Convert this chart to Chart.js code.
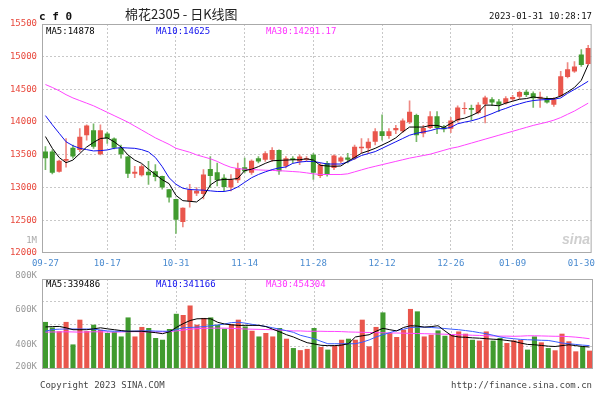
<!DOCTYPE html>
<html lang="zh-CN">
<head>
<meta charset="utf-8">
<title>棉花2305 - 日K线图</title>
<script src="https://cdn.jsdelivr.net/npm/chart.js@4.4.1/dist/chart.umd.min.js"></script>
<style>
  html, body { margin: 0; padding: 0; background: #fff; }
  #lienzo { position: relative; width: 600px; height: 400px; overflow: hidden;
            font-family: "DejaVu Sans Mono", monospace; font-size: 9px; color: #111; }
  #lienzo canvas { position: absolute; left: 0; }
  .txt { position: absolute; line-height: 9px; white-space: nowrap; }
</style>
</head>
<body>
<div id="lienzo">
  <canvas id="chartVelas" width="600" height="275" style="top:0"></canvas>
  <canvas id="chartVolumen" width="600" height="134" style="top:266px"></canvas>

  <div class="txt" style="left:39px;top:11px;font-weight:bold;font-size:11px;line-height:11px;">c f 0</div>
  <div class="txt" style="left:125px;top:7px;font-family:'Noto Sans CJK SC',sans-serif;font-size:13px;line-height:14px;color:#222;">棉花2305 - 日K线图</div>
  <div class="txt" style="right:8px;top:11.5px;">2023-01-31 10:28:17</div>

  <div class="txt" style="left:46px;top:27px;color:#000;">MA5:14878</div>
  <div class="txt" style="left:156px;top:27px;color:#1010ee;">MA10:14625</div>
  <div class="txt" style="left:266px;top:27px;color:#ff33ff;">MA30:14291.17</div>
  <div class="txt" style="right:563px;top:235.5px;color:#aaa;">1M</div>
  <div class="txt" style="left:562px;top:232px;font-family:'Liberation Sans',sans-serif;font-style:italic;font-weight:bold;font-size:14px;line-height:14px;color:#cfcfcf;">sina</div>

  <div class="txt" style="left:46px;top:279.5px;color:#000;">MA5:339486</div>
  <div class="txt" style="left:156px;top:279.5px;color:#1010ee;">MA10:341166</div>
  <div class="txt" style="left:266px;top:279.5px;color:#ff33ff;">MA30:454304</div>

  <div class="txt" style="left:40px;top:380.5px;color:#444;">Copyright 2023 SINA.COM</div>
  <div class="txt" style="right:8px;top:380.5px;color:#444;">http://finance.sina.com.cn</div>
</div>

<script>
// Fechas de negociación (categorías del eje X)
const fechas = [
  '09-27','09-28','09-29','09-30','10-10','10-11','10-12','10-13','10-14','10-17',
  '10-18','10-19','10-20','10-21','10-24','10-25','10-26','10-27','10-28','10-31',
  '11-01','11-02','11-03','11-04','11-07','11-08','11-09','11-10','11-11','11-14',
  '11-15','11-16','11-17','11-18','11-21','11-22','11-23','11-24','11-25','11-28',
  '11-29','11-30','12-01','12-02','12-05','12-06','12-07','12-08','12-09','12-12',
  '12-13','12-14','12-15','12-16','12-19','12-20','12-21','12-22','12-23','12-26',
  '12-27','12-28','12-29','12-30','01-03','01-04','01-05','01-06','01-09','01-10',
  '01-11','01-12','01-13','01-16','01-17','01-18','01-19','01-20','01-30','01-31'
];
// Posiciones de las fechas que se muestran
const fechasVisibles = [0, 9, 19, 29, 39, 49, 59, 68, 78];

// Velas: apertura, máximo, mínimo, cierre
const apertura = [
  13550,13550,13240,13410,13610,13575,13800,13875,13510,13825,
  13750,13610,13475,13210,13190,13240,13250,13175,12975,12825,
  12475,12790,12910,12900,13285,13235,13150,13000,13110,13310,
  13225,13450,13425,13425,13575,13325,13450,13400,13425,13500,
  13175,13375,13300,13400,13460,13450,13600,13600,13700,13860,
  13790,13875,13860,14000,14110,13825,13910,14090,13925,13900,
  14025,14200,14215,14140,14275,14350,14315,14290,14350,14390,
  14465,14440,14360,14350,14265,14400,14690,14775,15035,14890
];
const maximo = [
  13625,13575,13420,13750,13650,13900,13960,13975,13960,13850,
  13760,13650,13475,13325,13350,13400,13350,13175,12975,12825,
  12690,13050,13000,13275,13475,13375,13200,13200,13375,13450,
  13425,13475,13550,13610,13575,13475,13475,13500,13475,13525,
  13375,13400,13500,13475,13525,13650,13750,13750,13900,14110,
  13900,13950,14050,14325,14125,13950,14160,14160,13950,14075,
  14250,14300,14260,14300,14400,14375,14350,14390,14410,14475,
  14490,14465,14460,14390,14375,14775,14910,14925,15110,15175
];
const minimo = [
  13275,13210,13235,13310,13450,13550,13725,13600,13500,13675,
  13590,13450,13150,13150,13175,13050,13100,12975,12775,12300,
  12400,12700,12875,12825,13000,13025,12950,12950,13075,13225,
  13200,13375,13400,13400,13200,13300,13375,13350,13400,13125,
  13150,13175,13275,13375,13375,13425,13525,13525,13650,13725,
  13750,13825,13840,13975,13700,13775,13900,13825,13850,13840,
  14000,14125,14025,14125,13990,14250,14160,14275,14325,14350,
  14390,14225,14225,14290,14240,14390,14675,14760,14850,14875
];
const cierre = [
  13450,13225,13410,13435,13475,13775,13950,13625,13875,13750,
  13610,13510,13210,13240,13325,13190,13160,13000,12850,12510,
  12690,12975,12950,13200,13175,13110,13010,13125,13300,13250,
  13410,13400,13525,13575,13250,13450,13420,13475,13450,13225,
  13350,13200,13490,13460,13425,13625,13625,13700,13860,13790,
  13860,13910,14025,14160,13800,13910,14090,13910,13890,14025,
  14225,14215,14190,14265,14375,14300,14265,14365,14385,14460,
  14415,14365,14390,14300,14350,14700,14810,14850,14875,15135
];

// Medias móviles del precio
const ma5 = [
  13780,13600,13460,13380,13420,13520,13620,13690,13750,13760,
  13700,13620,13500,13420,13370,13280,13200,13120,13060,12880,
  12800,12790,12780,12860,13040,13110,13125,13125,13140,13260,
  13280,13320,13370,13410,13415,13420,13425,13425,13440,13420,
  13340,13330,13325,13330,13400,13460,13525,13560,13600,13650,
  13700,13760,13850,13925,13925,13925,13950,13950,13920,13980,
  14040,14060,14100,14150,14260,14260,14250,14290,14320,14350,
  14360,14385,14370,14360,14360,14400,14460,14530,14640,14878
];
const ma10 = [
  14100,13960,13830,13700,13640,13600,13580,13560,13565,13575,
  13600,13610,13605,13600,13580,13545,13460,13320,13150,13050,
  12990,12970,12965,12960,12950,12940,12940,12960,13010,13080,
  13150,13200,13240,13275,13300,13315,13370,13390,13400,13400,
  13380,13360,13360,13360,13390,13440,13490,13520,13550,13600,
  13650,13700,13750,13800,13830,13850,13870,13900,13900,13920,
  13975,14000,14020,14050,14090,14130,14175,14210,14250,14280,
  14310,14330,14340,14345,14350,14370,14440,14500,14560,14625
];
const ma30 = [
  14575,14530,14480,14420,14370,14330,14290,14250,14200,14150,
  14100,14050,14000,13940,13880,13820,13760,13710,13660,13600,
  13570,13540,13500,13470,13440,13400,13350,13310,13290,13280,
  13275,13270,13265,13262,13258,13252,13245,13238,13225,13210,
  13200,13200,13200,13200,13210,13240,13270,13300,13325,13350,
  13375,13400,13425,13450,13470,13490,13510,13540,13570,13600,
  13620,13650,13680,13710,13740,13770,13800,13830,13860,13890,
  13920,13950,13975,14000,14030,14070,14120,14170,14230,14290
];

// Volumen (miles) y sus medias móviles
const volumen = [
  532,500,478,532,402,545,479,516,486,468,
  474,448,558,448,503,497,439,429,491,579,
  572,627,516,555,558,516,493,520,545,506,
  481,448,468,448,497,435,381,369,376,497,
  387,372,395,429,435,429,545,391,503,587,
  468,445,487,607,593,448,458,483,452,458,
  477,464,429,424,477,424,439,410,425,429,
  372,448,414,381,368,464,420,362,391,366
];
const volMa5 = [
  503,505,506,498,487,487,487,492,498,492,
  487,482,478,478,478,474,470,464,475,500,
  522,540,550,551,550,530,520,515,512,512,
  512,512,505,490,475,458,445,428,412,405,
  397,395,395,398,406,445,452,458,478,495,
  487,480,500,510,508,502,505,510,480,452,
  445,443,440,438,435,432,430,425,420,410,
  402,400,396,392,390,395,400,395,390,387
];
const volMa10 = [
  478,488,490,491,491,491,491,490,485,480,
  478,478,478,479,480,481,479,478,478,488,
  498,500,502,505,510,514,520,528,530,525,
  518,512,506,498,490,481,472,455,445,435,
  420,406,406,406,406,406,415,428,445,458,
  470,482,490,500,502,502,500,497,494,490,
  487,482,477,470,464,455,445,439,435,431,
  429,428,426,425,418,410,406,402,398,395
];
const volMa30 = [
  473,474,474,475,474,473,474,475,475,474,
  473,474,475,476,475,474,474,475,476,480,
  485,490,493,495,496,496,496,495,493,491,
  490,489,488,487,485,482,480,480,478,478,
  478,477,477,476,474,473,472,471,470,469,
  468,468,467,466,465,464,463,462,461,459,
  458,457,455,454,452,451,450,450,449,450,
  452,452,451,450,449,449,447,444,440,435
];
const etiquetasVolumen = [800, 600, 400, 200];

const MONO = '"DejaVu Sans Mono", monospace';
const ROJO = '#e9564c';
const VERDE = '#419b2f';
const GRIS_REJILLA = '#c8c8c8';

const subeDia = cierre.map((c, i) => c >= apertura[i]);
const colorCuerpo = subeDia.map(s => s ? ROJO : VERDE);
const colorMecha = subeDia.map(s => s ? '#ee8a84' : '#78b86a');

// Marco gris alrededor del área de trazado
const marcoGrafico = {
  id: 'marcoGrafico',
  afterDraw(chart) {
    const { ctx, chartArea: a } = chart;
    ctx.save();
    ctx.strokeStyle = '#aaa';
    ctx.lineWidth = 1;
    ctx.strokeRect(a.left + 0.5, a.top + 0.5, a.right - a.left - 1, a.bottom - a.top - 1);
    ctx.restore();
  }
};

function lineaMedia(label, data, color) {
  return { type: 'line', label, data, borderColor: color, borderWidth: 1,
           pointRadius: 0, tension: 0, fill: false };
}

function ejeFechas(mostrarTexto) {
  return {
    offset: true,
    grid: {
      offset: false, drawTicks: false,
      color: ctx => (ctx.index === 0 || ctx.index === fechasVisibles.length - 1) ? 'transparent' : GRIS_REJILLA
    },
    border: { display: false, dash: [2, 2] },
    ticks: { display: mostrarTexto, autoSkip: false, maxRotation: 0, padding: 5,
             color: '#4a8bd0', font: { family: MONO, size: 9 } },
    afterBuildTicks: eje => { eje.ticks = fechasVisibles.map(v => ({ value: v })); },
    afterFit: eje => { eje.height = mostrarTexto ? 22 : 0; }
  };
}

// Gráfico de velas con medias móviles
function crearGraficoVelas() {
  new Chart(document.getElementById('chartVelas'), {
    type: 'bar',
    data: {
      labels: fechas,
      datasets: [
        lineaMedia('MA5', ma5, '#000'),
        lineaMedia('MA10', ma10, '#1010ee'),
        lineaMedia('MA30', ma30, '#ff44ff'),
        {
          label: '实体',
          data: apertura.map((o, i) => [Math.min(o, cierre[i]), Math.max(o, cierre[i])]),
          backgroundColor: colorCuerpo,
          grouped: false, barPercentage: 0.74, categoryPercentage: 1, minBarLength: 1
        },
        {
          label: '影线',
          data: maximo.map((h, i) => [minimo[i], h]),
          backgroundColor: colorMecha,
          grouped: false, barThickness: 1
        }
      ]
    },
    options: {
      responsive: false,
      animation: false,
      layout: { padding: { top: 24, right: 7, bottom: 0, left: 0 } },
      plugins: { legend: { display: false }, tooltip: { enabled: false } },
      scales: {
        x: ejeFechas(true),
        y: {
          min: 12000, max: 15500,
          ticks: { stepSize: 500, padding: 5, color: '#e8483c', font: { family: MONO, size: 9 },
                   callback: v => String(v) },
          grid: {
            drawTicks: false,
            color: ctx => (ctx.tick.value === 12000 || ctx.tick.value === 15500) ? 'transparent' : GRIS_REJILLA
          },
          border: { display: false, dash: [2, 2] },
          afterFit: eje => { eje.width = 42; }
        }
      }
    },
    plugins: [marcoGrafico]
  });
}

// Etiquetas del eje de volumen
const textoVolumen = {
  id: 'textoVolumen',
  afterDraw(chart) {
    const { ctx, chartArea, scales: { y } } = chart;
    ctx.save();
    ctx.font = '9px ' + MONO;
    ctx.fillStyle = '#999';
    ctx.textAlign = 'right';
    ctx.textBaseline = 'middle';
    etiquetasVolumen.forEach(v => {
      const py = Math.min(y.getPixelForValue(v), chartArea.bottom - 2);
      ctx.fillText(v + 'K', 37, py);
    });
    ctx.restore();
  }
};

// Gráfico de volumen
function crearGraficoVolumen() {
  new Chart(document.getElementById('chartVolumen'), {
    type: 'bar',
    data: {
      labels: fechas,
      datasets: [
        lineaMedia('MA5', volMa5, '#000'),
        lineaMedia('MA10', volMa10, '#3a5cff'),
        lineaMedia('MA30', volMa30, '#ff44ff'),
        {
          label: '成交量',
          data: volumen,
          backgroundColor: colorCuerpo,
          barPercentage: 0.74, categoryPercentage: 1
        }
      ]
    },
    options: {
      responsive: false,
      animation: false,
      layout: { padding: { top: 13, right: 7, bottom: 31, left: 0 } },
      plugins: { legend: { display: false }, tooltip: { enabled: false } },
      scales: {
        x: ejeFechas(false),
        y: {
          min: 260, max: 780,
          ticks: { display: false, stepSize: 130 },
          grid: {
            drawTicks: false,
            color: ctx => (ctx.tick.value === 260 || ctx.tick.value === 780) ? 'transparent' : GRIS_REJILLA
          },
          border: { display: false, dash: [2, 2] },
          afterFit: eje => { eje.width = 42; }
        }
      }
    },
    plugins: [marcoGrafico, textoVolumen]
  });
}

crearGraficoVelas();
crearGraficoVolumen();
</script>
</body>
</html>
